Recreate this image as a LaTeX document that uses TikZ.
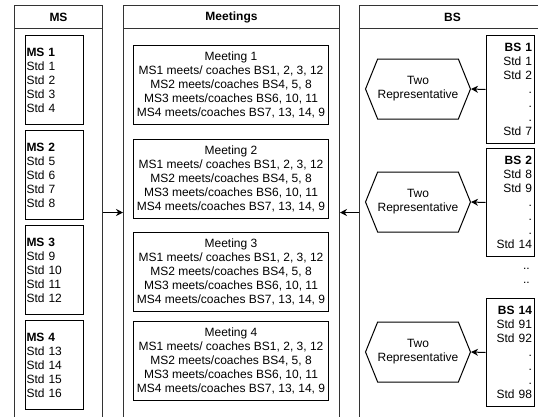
\documentclass[tikz,border=0pt]{standalone}
\usepackage{fontspec}
\setmainfont{Liberation Sans}
\usetikzlibrary{positioning,arrows.meta,shapes.symbols}

\tikzset{
	lane/.style={draw=black!80, line width=1pt, minimum width=#1, minimum height=414, anchor=north west, inner sep=0},
	lanehead/.style={draw=black!80, line width=1pt, minimum width=#1, minimum height=23, anchor=north west, inner sep=0, font=\fontsize{12}{14}\selectfont\bfseries},
	stdbox/.style={draw, line width=1pt, minimum width=58, minimum height=89, text width=56, inner xsep=1, inner ysep=0, align=left, anchor=north west},
	meetbox/.style={draw, line width=1pt, minimum width=192, minimum height=79, inner ysep=0, align=center, anchor=north},
	bsbox/.style={draw, line width=1pt, minimum width=48, minimum height=108, text width=44, inner xsep=2, inner ysep=0, align=right, anchor=north east},
	repr/.style={draw, line width=1pt, signal, signal to=east and west, signal pointer angle=136, minimum width=98, minimum height=60, inner sep=0, align=center},
	arr/.style={-{Stealth[length=7,width=7]}, line width=1pt},
}

\begin{document}
\begin{tikzpicture}[x=1pt, y=-1pt, font=\fontsize{12}{14}\selectfont]
	\useasboundingbox (0,0) rectangle (538,416);
	\clip (0,0) rectangle (538,416);
	
	% lanes
	\node [lane=88] (mslane) at (14,5) {};
	\node [lanehead=88] (mshead) at (14,5) {MS};
	\node [lane=216] (mtlane) at (123,5) {};
	\node [lanehead=216] (mthead) at (123,5) {Meetings};
	\node [lane=186] (bslane) at (359,5) {};
	\node [lanehead=186] (bshead) at (359,5) {BS};
	
	% MS column
	\node [stdbox] (ms1) at (25,35) {\textbf{MS 1}\\Std 1\\Std 2\\Std 3\\Std 4};
	\node [stdbox, below=5pt of ms1] (ms2) {\textbf{MS 2}\\Std 5\\Std 6\\Std 7\\Std 8};
	\node [stdbox, below=5pt of ms2] (ms3) {\textbf{MS 3}\\Std 9\\Std 10\\Std 11\\Std 12};
	\node [stdbox, below=5pt of ms3] (ms4) {\textbf{MS 4}\\Std 13\\Std 14\\Std 15\\Std 16};
	
	% meetings
	\foreach \i/\y in {1/45, 2/139, 3/232, 4/321}
		\node [meetbox] (meet\i) at (231,\y) {Meeting \i\\MS1 meets/ coaches BS1, 2, 3, 12\\MS2 meets/coaches BS4, 5, 8\\MS3 meets/coaches BS6, 10, 11\\MS4 meets/coaches BS7, 13, 14, 9};
	
	% BS column
	\node [bsbox] (bs1) at (534.5,35) {\textbf{BS 1}\\Std 1\\Std 2\\.\\.\\.\\Std 7};
	\node [bsbox] (bs2) at (534.5,148) {\textbf{BS 2}\\Std 8\\Std 9\\.\\.\\.\\Std 14};
	\node [align=right, anchor=east, inner sep=0] (bsgap) at (530,276) {..\\..};
	\node [bsbox] (bs14) at (534.5,298) {\textbf{BS 14}\\Std 91\\Std 92\\.\\.\\.\\Std 98};
	
	\node [repr] (rep1) at (418,89) {Two\\Representative};
	\node [repr] (rep2) at (418,202) {Two\\Representative};
	\node [repr] (rep3) at (418,352) {Two\\Representative};
	
	\draw [arr] (bs1.west) -- (rep1.east);
	\draw [arr] (bs2.west) -- (rep2.east);
	\draw [arr] (bs14.west) -- (rep3.east);
	\draw [arr] (mslane.east) -- (mtlane.west);
	\draw [arr] (bslane.west) -- (mtlane.east);
	
\end{tikzpicture}
\end{document}
